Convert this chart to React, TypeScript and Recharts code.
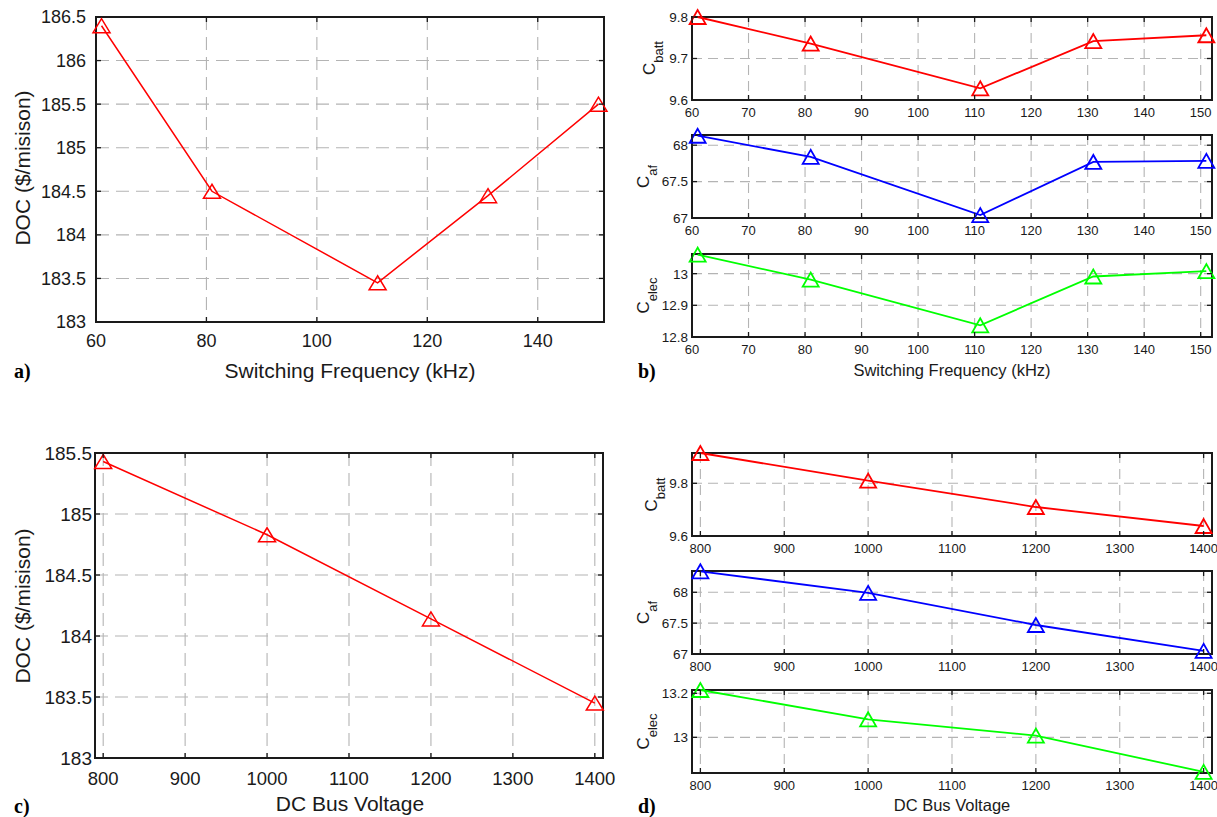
import React from "react";
import { LineChart, Line, XAxis, YAxis, CartesianGrid, ReferenceArea } from "recharts";

const FONT = "'Liberation Sans', Arial, Helvetica, sans-serif";
const SERIF = "'Liberation Serif', 'Times New Roman', serif";
const INK = "#1a1a1a";
const TICK = 5;

// switching frequency sweep (kHz)
const freqKhz = [61, 81, 111, 131, 151];
const docFreq = [186.4, 184.5, 183.45, 184.45, 185.5];
const battFreq = [9.8, 9.736, 9.628, 9.742, 9.756];
const afFreq = [68.13, 67.84, 67.04, 67.77, 67.785];
const elecFreq = [13.06, 12.981, 12.837, 12.991, 13.008];

// DC bus voltage sweep (V)
const busVolt = [800, 1000, 1200, 1400];
const docVolt = [185.43, 184.83, 184.14, 183.45];
const battVolt = [9.915, 9.81, 9.71, 9.638];
const afVolt = [68.34, 67.99, 67.47, 67.05];
const elecVolt = [13.215, 13.082, 13.008, 12.843];

// axis ticks
const freqTicksBig = [60, 80, 100, 120, 140];
const freqTicksSmall = [60, 70, 80, 90, 100, 110, 120, 130, 140, 150];
const voltTicks = [800, 900, 1000, 1100, 1200, 1300, 1400];
const docFreqTicks = [183, 183.5, 184, 184.5, 185, 185.5, 186, 186.5];
const docVoltTicks = [183, 183.5, 184, 184.5, 185, 185.5];
const battFreqTicks = [9.6, 9.7, 9.8];
const afTicks = [67, 67.5, 68];
const elecFreqTicks = [12.8, 12.9, 13];
const battVoltTicks = [9.6, 9.8];
const elecVoltTicks = [13, 13.2];

const RED = "#ff0000";
const BLUE = "#0000ff";
const GREEN = "#00ff00";

interface PanelProps {
  left: number; // plot area left on page
  top: number; // plot area top on page
  plotW: number;
  plotH: number;
  yAxisW: number;
  xAxisH: number;
  mRight: number;
  xs: number[];
  ys: number[];
  xDomain: [number, number];
  xTicks: number[];
  yDomain: [number, number];
  yTicks: number[];
  color: string;
  xFont: number;
  yFont: number;
  xLabelDy: number;
  yLabelGap: number;
  lineW: number;
  markW: number;
  markH: number;
  dash: string;
}

function Panel(p: PanelProps) {
  const mTop = 12;
  const data = p.xs.map((x, i) => ({ x, y: p.ys[i] }));
  const width = p.yAxisW + p.plotW + p.mRight;
  const height = mTop + p.plotH + p.xAxisH;

  const xTick = (props: any) => {
    const { x, y, payload } = props;
    return (
      <g>
        <line x1={x} y1={y} x2={x} y2={y - TICK} stroke={INK} strokeWidth={1.3} />
        <line x1={x} y1={y - p.plotH} x2={x} y2={y - p.plotH + TICK} stroke={INK} strokeWidth={1.3} />
        <text x={x} y={y + p.xLabelDy} textAnchor="middle" fontSize={p.xFont} fontFamily={FONT} fill={INK}>
          {payload.value}
        </text>
      </g>
    );
  };

  const yTick = (props: any) => {
    const { x, y, payload } = props;
    return (
      <g>
        <line x1={x} y1={y} x2={x + TICK} y2={y} stroke={INK} strokeWidth={1.3} />
        <line x1={x + p.plotW} y1={y} x2={x + p.plotW - TICK} y2={y} stroke={INK} strokeWidth={1.3} />
        <text x={x - p.yLabelGap} y={y} dy="0.36em" textAnchor="end" fontSize={p.yFont} fontFamily={FONT} fill={INK}>
          {payload.value}
        </text>
      </g>
    );
  };

  const dot = (props: any) => {
    const { cx, cy, index } = props;
    const w = p.markW / 2;
    const h = p.markH / 2;
    return (
      <polygon
        key={`m${index}`}
        points={`${cx},${cy - h} ${cx - w},${cy + h} ${cx + w},${cy + h}`}
        fill="none"
        stroke={p.color}
        strokeWidth={p.lineW}
      />
    );
  };

  return (
    <div style={{ position: "absolute", left: p.left - p.yAxisW, top: p.top - mTop }}>
      <LineChart width={width} height={height} data={data} margin={{ top: mTop, right: p.mRight, left: 0, bottom: 0 }}>
        <CartesianGrid stroke="#b4b4b4" strokeDasharray={p.dash} strokeWidth={1.1} />
        <XAxis
          type="number"
          dataKey="x"
          domain={p.xDomain}
          ticks={p.xTicks}
          interval={0}
          height={p.xAxisH}
          axisLine={false}
          tickLine={false}
          tickSize={0}
          tickMargin={0}
          tick={xTick}
        />
        <YAxis
          type="number"
          domain={p.yDomain}
          ticks={p.yTicks}
          interval={0}
          width={p.yAxisW}
          axisLine={false}
          tickLine={false}
          tickSize={0}
          tickMargin={0}
          tick={yTick}
        />
        <ReferenceArea
          x1={p.xDomain[0]}
          x2={p.xDomain[1]}
          y1={p.yDomain[0]}
          y2={p.yDomain[1]}
          fill="none"
          fillOpacity={0}
          stroke={INK}
          strokeWidth={2}
        />
        <Line
          type="linear"
          dataKey="y"
          stroke={p.color}
          strokeWidth={p.lineW}
          dot={dot}
          activeDot={false}
          isAnimationActive={false}
        />
      </LineChart>
    </div>
  );
}

const big = {
  plotW: 508,
  plotH: 305,
  yAxisW: 95,
  xAxisH: 40,
  mRight: 24,
  lineW: 1.5,
  markW: 17,
  markH: 14,
  dash: "13 7",
};

const small = {
  plotW: 520,
  plotH: 83,
  yAxisW: 92,
  xAxisH: 30,
  mRight: 5,
  xFont: 13,
  yFont: 13.5,
  xLabelDy: 17,
  yLabelGap: 4,
  lineW: 1.8,
  markW: 16,
  markH: 14,
  dash: "10 6",
};

function CLabel({ x, y, sub }: { x: number; y: number; sub: string }) {
  return (
    <text transform={`translate(${x},${y}) rotate(-90)`} textAnchor="middle" fontSize={17} fontFamily={FONT} fill={INK}>
      C
      <tspan dy={8} fontSize={13}>
        {sub}
      </tspan>
    </text>
  );
}

export default function App() {
  return (
    <div
      style={{
        position: "absolute",
        left: 0,
        top: 0,
        width: 1217,
        height: 817,
        background: "#fff",
        overflow: "hidden",
      }}
    >
      {/* a) DOC vs switching frequency */}
      <Panel
        {...big}
        left={96}
        top={17}
        xs={freqKhz}
        ys={docFreq}
        xDomain={[60, 152]}
        xTicks={freqTicksBig}
        yDomain={[183, 186.5]}
        yTicks={docFreqTicks}
        color={RED}
        xFont={18}
        yFont={18}
        xLabelDy={25}
        yLabelGap={10}
      />

      {/* b) component costs vs switching frequency */}
      <Panel {...small} left={692} top={17} xs={freqKhz} ys={battFreq} xDomain={[60, 152]} xTicks={freqTicksSmall}
        yDomain={[9.6, 9.8]} yTicks={battFreqTicks} color={RED} />
      <Panel {...small} left={692} top={135} xs={freqKhz} ys={afFreq} xDomain={[60, 152]} xTicks={freqTicksSmall}
        yDomain={[67, 68.14]} yTicks={afTicks} color={BLUE} />
      <Panel {...small} left={692} top={254} xs={freqKhz} ys={elecFreq} xDomain={[60, 152]} xTicks={freqTicksSmall}
        yDomain={[12.8, 13.062]} yTicks={elecFreqTicks} color={GREEN} />

      {/* c) DOC vs DC bus voltage */}
      <Panel
        {...big}
        left={95}
        top={453}
        xs={busVolt}
        ys={docVolt}
        xDomain={[790, 1410]}
        xTicks={voltTicks}
        yDomain={[183, 185.5]}
        yTicks={docVoltTicks}
        color={RED}
        xFont={18.5}
        yFont={19}
        xLabelDy={27}
        yLabelGap={3}
      />

      {/* d) component costs vs DC bus voltage */}
      <Panel {...small} left={692} top={453} xs={busVolt} ys={battVolt} xDomain={[790, 1410]} xTicks={voltTicks}
        yDomain={[9.6, 9.915]} yTicks={battVoltTicks} color={RED} />
      <Panel {...small} left={692} top={571} xs={busVolt} ys={afVolt} xDomain={[790, 1410]} xTicks={voltTicks}
        yDomain={[67, 68.345]} yTicks={afTicks} color={BLUE} />
      <Panel {...small} left={692} top={690} xs={busVolt} ys={elecVolt} xDomain={[790, 1410]} xTicks={voltTicks}
        yDomain={[12.838, 13.215]} yTicks={elecVoltTicks} color={GREEN} />

      {/* axis titles and panel letters */}
      <svg width={1217} height={817} style={{ position: "absolute", left: 0, top: 0, pointerEvents: "none" }}>
        <text transform="translate(30,168) rotate(-90)" textAnchor="middle" fontSize={21} fontFamily={FONT} fill={INK}>
          DOC ($/misison)
        </text>
        <text x={350} y={378} textAnchor="middle" fontSize={21} fontFamily={FONT} fill={INK}>
          Switching Frequency (kHz)
        </text>
        <text x={14} y={378} fontSize={20} fontWeight="bold" fontFamily={SERIF} fill="#000">
          a)
        </text>

        <CLabel x={655} y={58} sub="batt" />
        <CLabel x={649} y={176.5} sub="af" />
        <CLabel x={649} y={295.5} sub="elec" />
        <text x={952} y={376} textAnchor="middle" fontSize={16.5} fontFamily={FONT} fill={INK}>
          Switching Frequency (kHz)
        </text>
        <text x={638} y={378} fontSize={20} fontWeight="bold" fontFamily={SERIF} fill="#000">
          b)
        </text>

        <text transform="translate(30,606) rotate(-90)" textAnchor="middle" fontSize={21} fontFamily={FONT} fill={INK}>
          DOC ($/misison)
        </text>
        <text x={350} y={811} textAnchor="middle" fontSize={21} fontFamily={FONT} fill={INK}>
          DC Bus Voltage
        </text>
        <text x={14} y={813} fontSize={20} fontWeight="bold" fontFamily={SERIF} fill="#000">
          c)
        </text>

        <CLabel x={657} y={494.5} sub="batt" />
        <CLabel x={649} y={612.5} sub="af" />
        <CLabel x={649} y={731.5} sub="elec" />
        <text x={952} y={811} textAnchor="middle" fontSize={16.5} fontFamily={FONT} fill={INK}>
          DC Bus Voltage
        </text>
        <text x={638} y={813} fontSize={20} fontWeight="bold" fontFamily={SERIF} fill="#000">
          d)
        </text>
      </svg>
    </div>
  );
}
